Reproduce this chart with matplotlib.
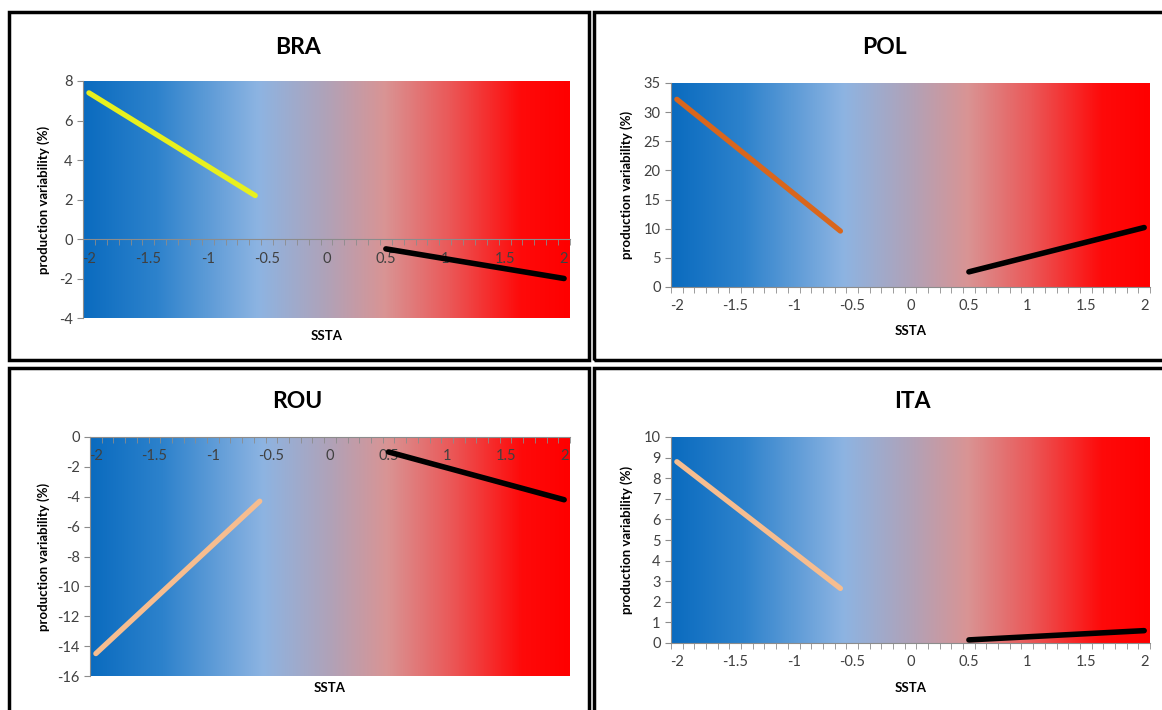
import numpy as np
import matplotlib
matplotlib.use("Agg")
import matplotlib.pyplot as plt
from matplotlib.colors import LinearSegmentedColormap
from matplotlib.patches import Rectangle

plt.rcParams['font.family'] = ['Lato', 'DejaVu Sans']

# data (SSTA vs production variability %)
countries = ["BRA", "POL", "ROU", "ITA"]
cold_x = [-2, -0.6]
warm_x = [0.5, 2]
bra_cold = [7.4, 2.2]
bra_warm = [-0.5, -2.0]
pol_cold = [32.2, 9.6]
pol_warm = [2.6, 10.2]
rou_cold = [-14.5, -4.3]
rou_warm = [-1.0, -4.2]
ita_cold = [8.8, 2.65]
ita_warm = [0.15, 0.6]
x_ticks = [-2, -1.5, -1, -0.5, 0, 0.5, 1, 1.5, 2]
x_ticklabels = ["-2", "-1.5", "-1", "-0.5", "0", "0.5", "1", "1.5", "2"]
y_ticks = {
    "BRA": list(range(-4, 9, 2)),
    "POL": list(range(0, 36, 5)),
    "ROU": list(range(-16, 1, 2)),
    "ITA": list(range(0, 11, 1)),
}

W, H = 1162, 710
fig = plt.figure(figsize=(W / 100, H / 100), dpi=100)

grad = LinearSegmentedColormap.from_list("ssta", [
    (0.0, "#0a6bbf"), (0.15, "#2d82cc"), (0.36, "#8db4e2"),
    (0.5, "#b0a2b8"), (0.62, "#d99494"), (0.75, "#ea5a5a"),
    (0.9, "#fe0a0a"), (1.0, "#ff0000")])

def fx(px):
    return px / W

def fy(py):
    return 1 - py / H

# panel frames (pixel boxes)
frames = [(9, 12, 589, 360), (594, 12, 1166, 360), (9, 368, 589, 712), (594, 368, 1166, 712)]
for x0, y0, x1, y1 in frames:
    fig.add_artist(Rectangle((fx(x0), fy(y1)), fx(x1 - x0), (y1 - y0) / H,
                             transform=fig.transFigure, fill=False,
                             edgecolor="black", linewidth=2.5))

# plot areas (pixel coords: left, top, right, bottom)
areas = {
    "BRA": (83, 81, 570, 318),
    "POL": (671, 83, 1150, 287),
    "ROU": (90, 437, 570, 676),
    "ITA": (671, 437, 1150, 643),
}
series = {
    "BRA": (bra_cold, bra_warm, "#e8f01e"),
    "POL": (pol_cold, pol_warm, "#d9661c"),
    "ROU": (rou_cold, rou_warm, "#f7bd8f"),
    "ITA": (ita_cold, ita_warm, "#f7bd8f"),
}
titles_pos = {"BRA": (298, 47), "POL": (884, 47), "ROU": (297, 402), "ITA": (912, 402)}
ylab_x = {"BRA": 44, "POL": 627, "ROU": 44, "ITA": 627}
xlab_y = {"BRA": 336, "POL": 331, "ROU": 688, "ITA": 688}

for c in countries:
    l, t, r, b = areas[c]
    ax = fig.add_axes([fx(l), fy(b), fx(r - l), (b - t) / H])
    yt = y_ticks[c]
    ax.set_xlim(-2.05, 2.05)
    ax.set_ylim(yt[0], yt[-1])
    ax.imshow(np.linspace(0, 1, 256).reshape(1, -1), cmap=grad, aspect="auto",
              extent=(-2.05, 2.05, yt[0], yt[-1]), zorder=0)
    cold, warm, col = series[c]
    ax.plot(cold_x, cold, color=col, lw=3.8, solid_capstyle="round", zorder=3)
    ax.plot(warm_x, warm, color="black", lw=4.0, solid_capstyle="round", zorder=3)

    for s in ["top", "right"]:
        ax.spines[s].set_visible(False)
    ax.spines["left"].set_color("#8c8c8c")
    ax.spines["bottom"].set_color("#8c8c8c")
    ax.spines["bottom"].set_position(("data", 0))
    ax.spines["bottom"].set_zorder(2)

    ax.set_yticks(yt)
    ax.set_yticklabels([str(v) for v in yt])
    ax.set_xticks(x_ticks)
    ax.set_xticklabels(x_ticklabels)
    ax.set_xticks(np.arange(-2.05, 2.06, 0.1), minor=True)
    ax.tick_params(axis="x", which="major", length=0, pad=9, labelsize=10.5, labelcolor="#404040")
    ax.tick_params(axis="x", which="minor", length=4, color="#8c8c8c", direction="out")
    ax.tick_params(axis="y", length=4, color="#8c8c8c", labelsize=10.5, labelcolor="#404040")

    tx, ty = titles_pos[c]
    fig.text(fx(tx), fy(ty), c, ha="center", va="center", fontsize=16.5, fontweight="bold")
    fig.text(fx(ylab_x[c]), fy((t + b) / 2), "production variability (%)", rotation=90,
             ha="center", va="center", fontsize=9.5, fontweight="bold")
    fig.text(fx((l + r) / 2), fy(xlab_y[c]), "SSTA", ha="center", va="center",
             fontsize=9.5, fontweight="bold")

fig.savefig("out.png", dpi=100)
